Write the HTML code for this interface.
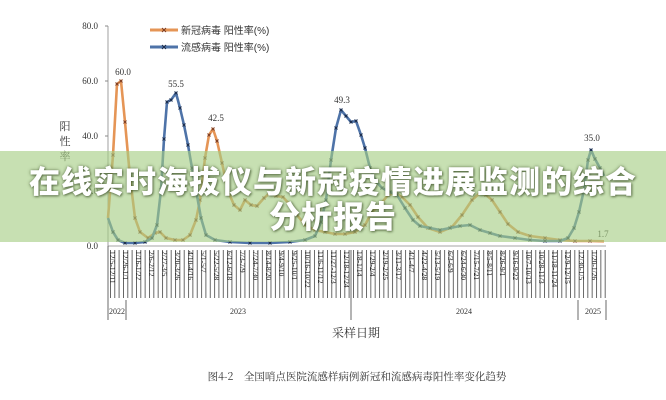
<!DOCTYPE html>
<html><head><meta charset="utf-8"><style>
html,body{margin:0;padding:0;background:#fff;}
body{width:666px;height:400px;overflow:hidden;position:relative;font-family:"Liberation Serif","Noto Serif CJK SC",serif;}
svg{position:absolute;left:0;top:0;}
.banner{position:absolute;left:0;top:151px;width:666px;height:91px;background:rgba(165,205,130,0.62);}
.bt{position:absolute;left:0;width:666px;text-align:center;color:#fff;font-family:"Liberation Sans","Noto Sans CJK SC",sans-serif;font-weight:900;font-size:31px;line-height:34px;letter-spacing:1px;white-space:nowrap;text-shadow:0 0 3px rgba(60,80,40,.7),1px 1px 2px rgba(60,80,40,.6);}
</style></head><body>
<svg width="666" height="400" viewBox="0 0 666 400" font-family="Liberation Serif, Noto Serif CJK SC, serif">
<defs>
<marker id="mo" markerWidth="4" markerHeight="4" refX="2" refY="2" markerUnits="userSpaceOnUse"><path d="M0.5,0.5L3.5,3.5M3.5,0.5L0.5,3.5" stroke="#7a3a20" stroke-width="0.9"/></marker>
<marker id="mb" markerWidth="4" markerHeight="4" refX="2" refY="2" markerUnits="userSpaceOnUse"><path d="M0.5,0.5L3.5,3.5M3.5,0.5L0.5,3.5" stroke="#1a2a48" stroke-width="0.9"/></marker>
<pattern id="tk" x="110" y="0" width="4.34" height="10" patternUnits="userSpaceOnUse"><rect x="0" y="0" width="0.8" height="10" fill="#444"/></pattern>
</defs>
<g font-size="9" fill="#333" text-anchor="end">
<text x="98" y="29">80.0</text><text x="98" y="84">60.0</text><text x="98" y="139">40.0</text><text x="98" y="194">20.0</text><text x="98" y="249">0.0</text>
</g>
<g font-size="11" fill="#333" text-anchor="middle" font-family="Noto Serif CJK SC, serif"><text x="65" y="130">阳</text><text x="65" y="145">性</text><text x="65" y="160">率</text></g>
<line x1="108" y1="26" x2="108" y2="246" stroke="#888" stroke-width="0.8"/>
<line x1="105" y1="26" x2="108" y2="26" stroke="#888"/><line x1="105" y1="81" x2="108" y2="81" stroke="#888"/><line x1="105" y1="136" x2="108" y2="136" stroke="#888"/><line x1="105" y1="191" x2="108" y2="191" stroke="#888"/>
<line x1="108" y1="246" x2="606" y2="246" stroke="#888" stroke-width="0.8"/>
<line x1="150" y1="30" x2="178" y2="30" stroke="#e59556" stroke-width="3"/><path d="M162,28l4,4m0,-4l-4,4" stroke="#7a3a20"/>
<line x1="150" y1="47" x2="178" y2="47" stroke="#4e73a8" stroke-width="3"/><path d="M162,45l4,4m0,-4l-4,4" stroke="#1a2a48"/>
<g font-size="10" fill="#333" font-family="Liberation Sans, Noto Sans CJK SC, sans-serif"><text x="181" y="34">新冠病毒 阳性率(%)</text><text x="181" y="51">流感病毒 阳性率(%)</text></g>
<polyline fill="none" stroke="#e59556" stroke-width="2.6" stroke-linejoin="round" marker-mid="url(#mo)" points="108,218 113,155 117,84 121,81 125,122 130,177 135,218 140,232 148,238 155,233 160,232 166,238 175,240 183,240 190,235 196,220 200,200 205,158 209,135 213,129 217,141 222,163 228,191 234,205 240,210 245,200 251,205 257,206 264,198 270,193 276,196 283,197 290,205 297,215 305,225 315,230 325,232 335,234 345,234 355,232 365,225 372,212 380,205 388,195 395,193 402,197 410,205 418,217 428,228 440,232 452,227 462,215 472,200 480,193 486,195 492,200 500,212 508,224 518,232 530,236 545,238 560,240 575,241 590,241 604,241.3"/>
<polyline fill="none" stroke="#4e73a8" stroke-width="2.6" stroke-linejoin="round" marker-mid="url(#mb)" points="108,218 113,232 118,240 125,243 135,243 145,242 152,238 157,225 161,190 164,139 167,102 171,100 176,93 180,108 184,125 188,145 192,168 196,190 201,218 206,235 215,240 230,242 250,243 270,243 290,242 305,240 315,236 321,222 326,200 331,160 336,128 341,110 346,116 351,122 356,121 361,135 365,148 370,168 375,180 382,188 390,192 397,195 405,208 413,220 420,226 430,228 440,230 450,228 460,226 470,225 480,230 490,233 500,236 515,238 530,240 545,241 560,241 568,238 574,228 579,212 584,190 588,160 591,150 595,159 600,168 604,176"/>
<g font-size="9" fill="#333" text-anchor="middle">
<text x="123" y="75">60.0</text><text x="176" y="87">55.5</text><text x="216" y="121">42.5</text><text x="342" y="103">49.3</text><text x="592" y="141">35.0</text><text x="603" y="237">1.7</text>
</g>
<rect x="110" y="250" width="496" height="48" fill="url(#tk)"/>
<line x1="108" y1="246" x2="108" y2="320" stroke="#444" stroke-width="0.8"/>
<line x1="126" y1="300" x2="126" y2="320" stroke="#444" stroke-width="0.8"/>
<line x1="351" y1="250" x2="351" y2="320" stroke="#444" stroke-width="0.8"/>
<line x1="578" y1="300" x2="578" y2="320" stroke="#444" stroke-width="0.8"/>
<line x1="606" y1="300" x2="606" y2="320" stroke="#444" stroke-width="0.8"/>
<g font-size="8" fill="#333" text-anchor="middle"><text x="117" y="314">2022</text><text x="238" y="314">2023</text><text x="464" y="314">2024</text><text x="593" y="314">2025</text></g>
<text x="356" y="337" font-size="12" fill="#333" text-anchor="middle" font-family="Noto Serif CJK SC, serif">采样日期</text>
<text x="357" y="380" font-size="10.5" fill="#333" text-anchor="middle" font-family="Noto Serif CJK SC, serif">图4-2　全国哨点医院流感样病例新冠和流感病毒阳性率变化趋势</text>
<g font-size="7.5" fill="#222" font-family="Liberation Serif, serif">
<text transform="translate(110,251) rotate(90)">12/5-12/11</text>
<text transform="translate(123,251) rotate(90)">12/26-1/1</text>
<text transform="translate(136,251) rotate(90)">1/16-1/22</text>
<text transform="translate(149,251) rotate(90)">2/6-2/12</text>
<text transform="translate(162,251) rotate(90)">2/27-3/5</text>
<text transform="translate(175,251) rotate(90)">3/20-3/26</text>
<text transform="translate(188,251) rotate(90)">4/10-4/16</text>
<text transform="translate(201,251) rotate(90)">5/1-5/7</text>
<text transform="translate(214,251) rotate(90)">5/22-5/28</text>
<text transform="translate(227,251) rotate(90)">6/12-6/18</text>
<text transform="translate(240,251) rotate(90)">7/3-7/9</text>
<text transform="translate(253,251) rotate(90)">7/24-7/30</text>
<text transform="translate(266,251) rotate(90)">8/14-8/20</text>
<text transform="translate(279,251) rotate(90)">9/4-9/10</text>
<text transform="translate(292,251) rotate(90)">9/25-10/1</text>
<text transform="translate(305,251) rotate(90)">10/16-10/22</text>
<text transform="translate(318,251) rotate(90)">11/6-11/12</text>
<text transform="translate(331,251) rotate(90)">11/27-12/3</text>
<text transform="translate(344,251) rotate(90)">12/18-12/24</text>
<text transform="translate(357,251) rotate(90)">1/8-1/14</text>
<text transform="translate(370,251) rotate(90)">1/29-2/4</text>
<text transform="translate(383,251) rotate(90)">2/19-2/25</text>
<text transform="translate(396,251) rotate(90)">3/11-3/17</text>
<text transform="translate(409,251) rotate(90)">4/1-4/7</text>
<text transform="translate(422,251) rotate(90)">4/22-4/28</text>
<text transform="translate(435,251) rotate(90)">5/13-5/19</text>
<text transform="translate(448,251) rotate(90)">6/3-6/9</text>
<text transform="translate(461,251) rotate(90)">6/24-6/30</text>
<text transform="translate(474,251) rotate(90)">7/15-7/21</text>
<text transform="translate(487,251) rotate(90)">8/5-8/11</text>
<text transform="translate(500,251) rotate(90)">8/26-9/1</text>
<text transform="translate(513,251) rotate(90)">9/16-9/22</text>
<text transform="translate(526,251) rotate(90)">10/7-10/13</text>
<text transform="translate(539,251) rotate(90)">10/28-11/3</text>
<text transform="translate(552,251) rotate(90)">11/18-11/24</text>
<text transform="translate(565,251) rotate(90)">12/9-12/15</text>
<text transform="translate(579,251) rotate(90)">12/30-1/5</text>
<text transform="translate(592,251) rotate(90)">1/20-1/26</text>
</g>
</svg>
<div class="banner"></div>
<div class="bt" style="top:166px;">在线实时海拔仪与新冠疫情进展监测的综合</div>
<div class="bt" style="top:201px;">分析报告</div>
</body></html>
